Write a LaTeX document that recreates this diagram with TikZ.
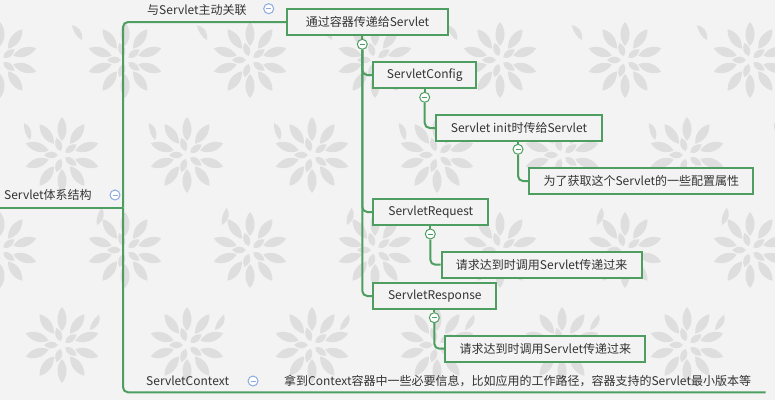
\documentclass[tikz,border=0pt]{standalone}
\usepackage{fontspec}
\setmainfont{Noto Sans CJK SC}
\definecolor{grn}{RGB}{78,158,98}
\definecolor{blu}{RGB}{140,170,225}
\definecolor{txt}{RGB}{51,51,51}
\definecolor{bg}{RGB}{243,243,243}
\definecolor{petal}{RGB}{222,222,222}
\begin{document}
\begin{tikzpicture}[x=1pt,y=-1pt,
  font=\fontsize{12}{14}\selectfont, text=txt,
  box/.style={draw=grn, line width=2pt, fill=bg, minimum height=26pt, inner xsep=0pt, anchor=west},
  conn/.style={draw=grn, line width=2pt, rounded corners=5pt},
  lbl/.style={inner sep=0pt, anchor=west},
  tog/.style={circle, draw=#1, fill=white, line width=1pt, minimum size=10pt, inner sep=0pt,
    path picture={\draw[#1, line width=1pt] ([xshift=-2.5pt]path picture bounding box.center) -- ([xshift=2.5pt]path picture bounding box.center);}},
  flower/.pic={
    \foreach \a in {0,36,...,324}{\fill[petal, rotate=\a] (0,-14) .. controls (7,-22) and (5,-32) .. (0,-38) .. controls (-5,-32) and (-7,-22) .. (0,-14);}
    \foreach \a in {18,90,...,306}{\fill[petal, rotate=\a] (0,-4) .. controls (5,-8) and (4,-14) .. (0,-18) .. controls (-4,-14) and (-5,-8) .. (0,-4);}
  },
  leaf/.pic={\fill[petal] (0,0) .. controls (6,-6) and (5,-14) .. (0,-18) .. controls (-2,-12) and (-3,-5) .. (0,0);}
]
\fill[bg] (0,0) rectangle (775,400);
\useasboundingbox (0,0) rectangle (775,400);
% background motif
\foreach \x in {0,125,...,800}{
  \pic at (\x,60) {flower};
  \pic at (\x,250) {flower};
  \pic[rotate=20] at (\x+30,140) {leaf};
  \pic[rotate=-30] at (\x+90,330) {leaf};
}
\foreach \x in {62,187,...,800}{
  \pic at (\x,155) {flower};
  \pic at (\x,345) {flower};
  \pic[rotate=-15] at (\x+35,225) {leaf};
  \pic[rotate=35] at (\x+20,40) {leaf};
}

% root
\node[lbl] (root) at (4,195) {Servlet体系结构};
\node[tog=blu] (troot) at (115,195) {};
\coordinate (r0) at (0,207.7);
\coordinate (hub) at (123,207.7);

% first level
\node[lbl] (rel) at (147,10) {与Servlet主动关联};
\node[tog=blu] (trel) at (268.7,8.7) {};
\node[lbl] (ctx) at (146,381) {ServletContext};
\node[tog=blu] (tctx) at (253,381) {};
\node[lbl] (ctxinfo) at (284,381) {拿到Context容器中一些必要信息，比如应用的工作路径，容器支持的Servlet最小版本等};
\coordinate (ctxend) at (765.7,392.3);

% boxes
\node[box, minimum width=161pt] (pass) at (286,22) {通过容器传递给Servlet};
\node[box, minimum width=103pt] (cfg) at (372.3,75) {ServletConfig};
\node[box, minimum width=166pt] (init) at (435,128) {Servlet init时传给Servlet};
\node[box, minimum width=224pt] (attr) at (528.3,181) {为了获取这个Servlet的一些配置属性};
\node[box, minimum width=115pt] (req) at (372.3,212) {ServletRequest};
\node[box, minimum width=200pt] (reqd) at (440.7,264.7) {请求达到时调用Servlet传递过来};
\node[box, minimum width=123pt] (resp) at (372.3,296) {ServletResponse};
\node[box, minimum width=200pt] (respd) at (444.3,348.7) {请求达到时调用Servlet传递过来};

% toggles
\node[tog=grn] (tpass) at (362.3,44.3) {};
\node[tog=grn] (tcfg) at (424.7,97.3) {};
\node[tog=grn] (tinit) at (518,149.3) {};
\node[tog=grn] (treq) at (430.3,234) {};
\node[tog=grn] (tresp) at (434.3,317.7) {};

% connectors
\draw[conn] (r0) -- (hub);
\draw[conn] (hub) |- (pass.west);
\draw[conn] (hub) |- (ctxend);
\draw[conn] (pass.south -| tpass) -- (tpass.north);
\draw[conn] (tpass.south) |- (cfg.west);
\draw[conn] (tpass.south) |- (req.west);
\draw[conn] (tpass.south) |- (resp.west);
\draw[conn] (cfg.south -| tcfg) -- (tcfg.north);
\draw[conn] (tcfg.south) |- (init.west);
\draw[conn] (init.south -| tinit) -- (tinit.north);
\draw[conn] (tinit.south) |- (attr.west);
\draw[conn] (req.south -| treq) -- (treq.north);
\draw[conn] (treq.south) |- (reqd.west);
\draw[conn] (resp.south -| tresp) -- (tresp.north);
\draw[conn] (tresp.south) |- (respd.west);
\end{tikzpicture}
\end{document}
